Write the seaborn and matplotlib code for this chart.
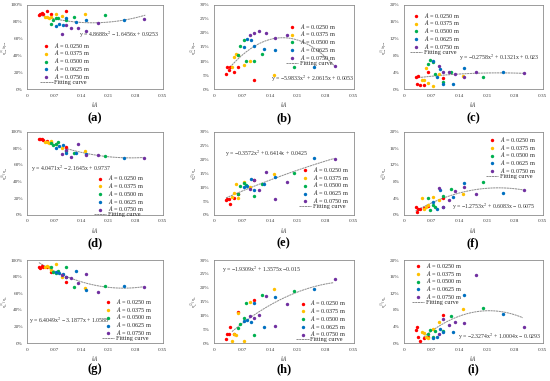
import numpy as np
import pandas as pd
import matplotlib
matplotlib.use("Agg")
import matplotlib.pyplot as plt
import seaborn as sns

sns.set_theme(style="white")
plt.rcParams['font.family'] = ['Liberation Serif', 'DejaVu Serif']
plt.rcParams['mathtext.fontset'] = 'stix'

# ---- data ----
amp_labels = ["$A$ = 0.0250 m", "$A$ = 0.0375 m", "$A$ = 0.0500 m", "$A$ = 0.0625 m", "$A$ = 0.0750 m"]
colors = ["#FF0000", "#FFC000", "#00B050", "#0070C0", "#7030A0"]

ka_red = [0.030, 0.033, 0.037, 0.040, 0.050, 0.060, 0.100]
ka_yellow = [0.045, 0.050, 0.055, 0.060, 0.075, 0.090, 0.150]
ka_green = [0.060, 0.066, 0.074, 0.080, 0.100, 0.120, 0.200]
ka_blue = [0.075, 0.083, 0.092, 0.100, 0.125, 0.152, 0.250]
ka_purple = [0.090, 0.100, 0.113, 0.130, 0.152, 0.183, 0.302]
ka_sets = [ka_red, ka_yellow, ka_green, ka_blue, ka_purple]

# values in percent, per panel, per amplitude series
vals_a = [[88, 89, 90, 89, 92, 89, 92],
          [86, 85, 84, 86, 89, 87, 89],
          [77, 82, 84, 84, 82, 85, 88],
          [75, 77, 76, 84, 80, 82, 82],
          [65, 76, 72, 72, 69, 78, 83]]
vals_b = [[5.5, 8.0, 6.9, 8.0, 6.2, 8.0, 3.3],
          [8.0, 11.4, 12.6, 12.3, 8.5, 10.2, 5.0],
          [12.0, 15.5, 17.4, 10.2, 9.9, 12.6, 7.9],
          [15.0, 18.0, 17.6, 15.2, 14.3, 14.0, 7.9],
          [19.3, 19.8, 20.5, 20.1, 18.3, 19.2, 8.3]]
vals_c = [[2.8, 1.3, 3.2, 1.0, 1.0, 4.2, 2.6],
          [2.3, 2.2, 5.0, 1.5, 0.8, 3.6, 3.1],
          [6.0, 7.0, 6.5, 3.5, 1.8, 4.0, 3.0],
          [6.7, 3.0, 4.7, 1.2, 1.2, 5.1, 4.2],
          [5.5, 4.0, 4.0, 3.6, 3.0, 4.2, 3.9]]
vals_d = [[91, 91, 90.5, 90, 89, 88, 81],
          [88, 87, 86, 89, 85, 80, 77],
          [86, 84, 85, 88, 77, 74, 71],
          [80, 83, 84, 74, 74, 73, 68],
          [73, 78, 70, 85, 72, 72, 68]]
vals_e = [[5.3, 5.7, 5.7, 3.8, 6.1, 7.7, 12.5],
          [6.5, 7.8, 11.2, 6.0, 11.8, 10.0, 14.8],
          [7.5, 10.5, 11.5, 10.8, 7.0, 11.0, 15.2],
          [10.0, 10.5, 12.8, 9.0, 11.0, 13.6, 20.3],
          [9.5, 12.5, 9.0, 15.4, 5.8, 11.8, 20.0]]
vals_f = [[1.8, 0.8, 1.5, 1.5, 1.6, 2.2, 4.0],
          [4.0, 1.5, 2.0, 2.5, 4.3, 3.5, 5.0],
          [4.0, 1.3, 2.5, 2.0, 4.5, 6.2, 7.8],
          [3.0, 1.5, 6.0, 1.8, 4.2, 7.6, 5.3],
          [6.5, 1.8, 3.6, 5.8, 6.7, 5.1, 6.0]]
vals_g = [[92, 90, 93, 91, 92, 85, 73],
          [92, 93, 91, 88, 95, 80, 66],
          [91, 86, 84, 87, 91, 68, 69],
          [85, 84, 83, 79, 87, 64, 69],
          [82, 80, 78, 72, 83, 62, 68]]
vals_h = [[1.5, 3.5, 3.3, 5.8, 3.5, 11.3, 15.5],
          [1.0, 3.5, 3.0, 10.8, 0.8, 15.0, 19.5],
          [5.5, 7.0, 9.0, 14.5, 3.0, 17.5, 18.8],
          [8.0, 8.5, 7.8, 14.5, 6.0, 16.8, 19.5],
          [9.8, 9.2, 10.2, 17.0, 6.3, 14.0, 23.2]]
vals_i = [[3.3, 3.8, 1.5, 0.5, 1.3, 1.5, 6.7],
          [2.8, 2.5, 1.5, 1.2, 3.5, 5.0, 8.2],
          [2.2, 3.3, 1.6, 3.0, 2.9, 6.6, 8.5],
          [1.2, 1.5, 3.5, 2.8, 2.7, 11.6, 7.0],
          [2.2, 5.9, 4.5, 5.0, 4.8, 16.5, 3.8]]
panel_vals = [vals_a, vals_b, vals_c, vals_d, vals_e, vals_f, vals_g, vals_h, vals_i]

# fitted quadratic coefficients (a, b, c) as printed, and their x-range
fit_coefs = [(4.8688, -1.6456, 0.9253), (-5.9833, 2.0615, 0.0053), (-0.2758, 0.1321, 0.023),
             (4.0471, -2.1645, 0.9737), (-0.3572, 0.6414, 0.0425), (-1.2753, 0.6083, -0.0075),
             (6.4049, -3.1877, 1.0588), (-1.9309, 1.3575, -0.015), (-2.3274, 1.0004, -0.0293)]
fit_range = [(0.03, 0.305), (0.04, 0.30), (0.03, 0.30), (0.03, 0.30), (0.03, 0.30),
             (0.03, 0.30), (0.03, 0.30), (0.045, 0.30), (0.05, 0.30)]
eq_texts = ["y = 4.8688x$^2$ \u2212 1.6456x + 0.9253", "y = \u22125.9833x$^2$ + 2.0615x + 0.0053",
            "y = \u22120.2758x$^2$ + 0.1321x + 0.023", "y = 4.0471x$^2$ \u2212 2.1645x + 0.9737",
            "y = \u22120.3572x$^2$ + 0.6414x + 0.0425", "y = \u22121.2753x$^2$ + 0.6083x \u2212 0.0075",
            "y = 6.4049x$^2$ \u2212 3.1877x + 1.0588", "y = \u22121.9309x$^2$ + 1.3575x \u22120.015",
            "y = \u22122.3274x$^2$ + 1.0004x \u2212 0.0293"]
ylabels = [r"$\eta_{sur}^{(1)}/\eta_{sur}$", r"$\eta_{sur}^{(2)}/\eta_{sur}$", r"$\eta_{sur}^{(3)}/\eta_{sur}$",
           r"$\eta_{m}^{(1)}/\eta_{m}$", r"$\eta_{m}^{(2)}/\eta_{m}$", r"$\eta_{m}^{(3)}/\eta_{m}$",
           r"$\eta_{b}^{(1)}/\eta_{b}$", r"$\eta_{b}^{(2)}/\eta_{b}$", r"$\eta_{b}^{(3)}/\eta_{b}$"]
panel_tags = ["(a)", "(b)", "(c)", "(d)", "(e)", "(f)", "(g)", "(h)", "(i)"]
ymax = [100, 30, 20, 100, 30, 20, 100, 30, 20]
ystep = [20, 5, 4, 20, 5, 4, 20, 5, 4]
xticks = [0, 0.07, 0.14, 0.21, 0.28, 0.35]
xtick_labels = ["0", "0.07", "0.14", "0.21", "0.28", "0.35"]

# ---- layout (pixels) ----
W, H = 550, 381
cols = [(27.3, 162.7), (214.0, 353.7), (403.7, 542.7)]
rows = [(4.7, 89.3), (131.5, 215.0), (260.0, 343.3)]
leg_anchor = [(0.094, 0.575), (0.515, 0.80), (0.045, 0.93), (0.49, 0.50), (0.605, 0.60),
              (0.59, 0.96), (0.55, 0.556), (0.59, 0.54), (0.057, 0.99)]
eq_pos = [(0.38, 0.64), (0.41, 0.12), (0.40, 0.37), (0.03, 0.56), (0.08, 0.74),
          (0.35, 0.10), (0.01, 0.27), (0.06, 0.88), (0.39, 0.08)]
tag_y = [118, 243, 369]

fig = plt.figure(figsize=(W / 100, H / 100), dpi=100)
fs_tick = 3.8
fs_leg = 4.5
fs_eq = 4.2
for p in range(9):
    r, c = divmod(p, 3)
    x0, x1 = cols[c]
    y0, y1 = rows[r]
    ax = fig.add_axes([x0 / W, 1 - y1 / H, (x1 - x0) / W, (y1 - y0) / H])
    for s in range(5):
        df = pd.DataFrame({"kA": ka_sets[s], "val": panel_vals[p][s]})
        sns.scatterplot(data=df, x="kA", y="val", color=colors[s], s=6, linewidth=0,
                        ax=ax, label=amp_labels[s], zorder=3)
    a, b, cc = fit_coefs[p]
    xs = np.linspace(fit_range[p][0], fit_range[p][1], 100)
    fit_df = pd.DataFrame({"kA": xs, "val": (a * xs ** 2 + b * xs + cc) * 100})
    sns.lineplot(data=fit_df, x="kA", y="val", color="#8C8C8C", lw=0.7,
                 linestyle=(0, (2.2, 0.6)), ax=ax, label="Fitting curve", zorder=2)
    ax.set_xlim(0, 0.35)
    ax.set_ylim(0, ymax[p])
    ax.set_xticks(xticks)
    ax.set_xticklabels(xtick_labels)
    yt = list(range(0, ymax[p] + 1, ystep[p]))
    ax.set_yticks(yt)
    ax.set_yticklabels([f"{v}%" for v in yt])
    ax.tick_params(axis="both", labelsize=fs_tick, length=1.2, width=0.4, pad=2.0, colors="#404040")
    for sp in ax.spines.values():
        sp.set_color("#8C8C8C")
        sp.set_linewidth(0.6)
    ax.set_xlabel("$kA$", fontsize=fs_tick + 0.3, labelpad=1.5, color="#404040")
    ax.set_ylabel(ylabels[p], fontsize=fs_tick - 0.7, labelpad=0.0, color="#404040")
    ax.text(eq_pos[p][0], eq_pos[p][1], eq_texts[p], transform=ax.transAxes,
            fontsize=fs_eq, color="#303030", va="center", ha="left")
    handles, labels = ax.get_legend_handles_labels()
    ax.legend(handles, labels, loc="upper left", bbox_to_anchor=leg_anchor[p], frameon=False,
              fontsize=fs_leg, handlelength=2.0, handletextpad=0.25, labelspacing=-0.2,
              borderpad=0, borderaxespad=0, markerscale=1.0)
    fig.text(((x0 + x1) / 2) / W, 1 - tag_y[r] / H, panel_tags[p], ha="center", va="center",
             fontsize=9, fontweight="bold", color="black")

fig.savefig("out.png", dpi=100)
